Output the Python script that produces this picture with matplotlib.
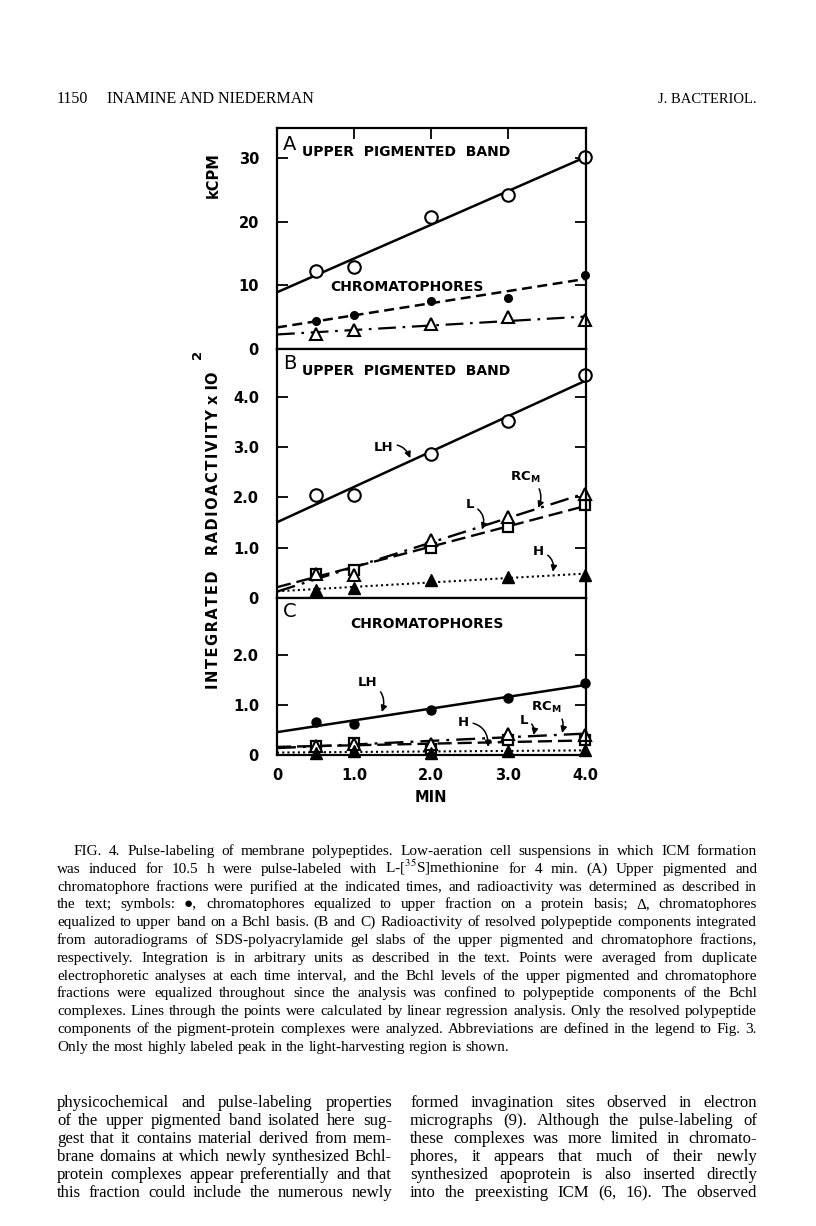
import numpy as np
import matplotlib
matplotlib.use("Agg")
import matplotlib.pyplot as plt

# ---------------- data ----------------
t_min = [0.5, 1.0, 2.0, 3.0, 4.0]
x_ticks = [0, 1.0, 2.0, 3.0, 4.0]
x_ticklabels = ["0", "1.0", "2.0", "3.0", "4.0"]

# Panel A (kCPM)
A_upper = [12.2, 12.8, 20.8, 24.2, 30.2]
A_chrom_protein = [4.4, 5.3, 7.6, 8.0, 11.6]
A_chrom_bchl = [2.3, 3.0, 3.9, 5.1, 4.5]
A_ticks = [0, 10, 20, 30]
A_ticklabels = ["0", "10", "20", "30"]

# Panel B (upper pigmented band)
B_LH = [2.05, 2.05, 2.86, 3.52, 4.43]
B_RCM = [0.48, 0.45, 1.15, 1.61, 2.07]
B_L = [0.48, 0.56, 1.00, 1.42, 1.85]
B_H = [0.16, 0.20, 0.36, 0.42, 0.45]
B_ticks = [0, 1.0, 2.0, 3.0, 4.0]
B_ticklabels = ["0", "1.0", "2.0", "3.0", "4.0"]

# Panel C (chromatophores)
C_LH = [0.66, 0.62, 0.90, 1.14, 1.44]
C_RCM = [0.18, 0.22, 0.22, 0.43, 0.40]
C_L = [0.18, 0.25, 0.12, 0.30, 0.30]
C_H = [0.05, 0.08, 0.05, 0.08, 0.10]
C_ticks = [0, 1.0, 2.0]
C_ticklabels = ["0", "1.0", "2.0"]

header_left_num = "1150"
header_left = "INAMINE AND NIEDERMAN"
header_right = "J. BACTERIOL."

caption_lines = [
    "FIG. 4. Pulse-labeling of membrane polypeptides. Low-aeration cell suspensions in which ICM formation",
    "was induced for 10.5 h were pulse-labeled with L-[$^{35}$S]methionine for 4 min. (A) Upper pigmented and",
    "chromatophore fractions were purified at the indicated times, and radioactivity was determined as described in",
    "the text; symbols: \u25CF, chromatophores equalized to upper fraction on a protein basis; \u0394, chromatophores",
    "equalized to upper band on a Bchl basis. (B and C) Radioactivity of resolved polypeptide components integrated",
    "from autoradiograms of SDS-polyacrylamide gel slabs of the upper pigmented and chromatophore fractions,",
    "respectively. Integration is in arbitrary units as described in the text. Points were averaged from duplicate",
    "electrophoretic analyses at each time interval, and the Bchl levels of the upper pigmented and chromatophore",
    "fractions were equalized throughout since the analysis was confined to polypeptide components of the Bchl",
    "complexes. Lines through the points were calculated by linear regression analysis. Only the resolved polypeptide",
    "components of the pigment-protein complexes were analyzed. Abbreviations are defined in the legend to Fig. 3.",
    "Only the most highly labeled peak in the light-harvesting region is shown.",
]
body_left = [
    "physicochemical and pulse-labeling properties",
    "of the upper pigmented band isolated here sug-",
    "gest that it contains material derived from mem-",
    "brane domains at which newly synthesized Bchl-",
    "protein complexes appear preferentially and that",
    "this fraction could include the numerous newly",
]
body_right = [
    "formed invagination sites observed in electron",
    "micrographs (9). Although the pulse-labeling of",
    "these complexes was more limited in chromato-",
    "phores, it appears that much of their newly",
    "synthesized apoprotein is also inserted directly",
    "into the preexisting ICM (6, 16). The observed",
]

# ---------------- figure ----------------
W, H = 816, 1226
fig = plt.figure(figsize=(W / 100, H / 100), dpi=100)
fig.patch.set_facecolor("white")

def fx(px):
    return px / W

def fy(py):
    return 1 - py / H

L, R = 277, 586
axA = fig.add_axes([fx(L), fy(349), fx(R) - fx(L), fy(128) - fy(349)])
axB = fig.add_axes([fx(L), fy(598), fx(R) - fx(L), fy(349) - fy(598)])
axC = fig.add_axes([fx(L), fy(755), fx(R) - fx(L), fy(598) - fy(755)])

tickfont = dict(family="DejaVu Sans", weight="bold", size=10.5)
t_arr = np.array(t_min)
xfit = np.array([0.0, 4.0])

def fit_line(ax, y, **kw):
    p = np.polyfit(t_arr, np.array(y), 1)
    ax.plot(xfit, np.polyval(p, xfit), color="black", **kw)

def style(ax, ylim, ticks, labels, top_ticks=False, xlabels=False):
    ax.set_xlim(0, 4.01)
    ax.set_ylim(*ylim)
    for s in ax.spines.values():
        s.set_linewidth(1.6)
    ax.set_yticks(ticks)
    ax.set_yticklabels(labels, fontdict=tickfont)
    ax.tick_params(axis="y", direction="in", length=8, width=1.3, left=True, right=True, pad=13)
    ax.set_xticks(x_ticks)
    if xlabels:
        ax.set_xticklabels(x_ticklabels, fontdict=tickfont)
        ax.tick_params(axis="x", direction="in", length=0, pad=9)
    else:
        ax.tick_params(axis="x", labelbottom=False, bottom=False, length=0)
    if top_ticks:
        ax.tick_params(axis="x", top=True, direction="in", length=8, width=1.3)
        ax.set_xticks([1.0, 2.0, 3.0])

# Panel A
fit_line(axA, A_upper, lw=1.8, ls="-")
axA.plot(t_arr, A_upper, "o", mfc="white", mec="black", mew=1.5, ms=9, clip_on=False)
fit_line(axA, A_chrom_protein, lw=1.8, dashes=(4, 2.2))
axA.plot(t_arr, A_chrom_protein, "o", color="black", ms=5.5, clip_on=False)
fit_line(axA, A_chrom_bchl, lw=1.6, dashes=(8, 3, 1.2, 3))
axA.plot(t_arr, A_chrom_bchl, "^", mfc="white", mec="black", mew=1.5, ms=8, clip_on=False)
style(axA, (0, 34.7), A_ticks, A_ticklabels, top_ticks=True)
axA.text(0.08, 33.6, "A", fontsize=14, va="top", ha="left", family="DejaVu Sans")
axA.text(0.32, 30.9, "UPPER  PIGMENTED  BAND", fontsize=10, weight="bold", va="center", ha="left")
axA.text(0.69, 9.8, "CHROMATOPHORES", fontsize=10, weight="bold", va="center", ha="left")

# Panel B
fit_line(axB, B_LH, lw=1.8, ls="-")
axB.plot(t_arr, B_LH, "o", mfc="white", mec="black", mew=1.5, ms=9, clip_on=False)
fit_line(axB, B_RCM, lw=1.7, dashes=(8, 3, 1.2, 3))
fit_line(axB, B_L, lw=1.7, dashes=(6, 2.5))
fit_line(axB, B_H, lw=1.5, dashes=(1, 1.5))
axB.plot(t_arr, B_L, "s", mfc="white", mec="black", mew=1.6, ms=7, clip_on=False)
axB.plot(t_arr, B_RCM, "^", mfc="white", mec="black", mew=1.5, ms=8, clip_on=False)
axB.plot(t_arr, B_H, "^", color="black", ms=8, clip_on=False)
style(axB, (0, 4.95), B_ticks, B_ticklabels)
axB.text(0.08, 4.85, "B", fontsize=14, va="top", ha="left", family="DejaVu Sans")
axB.text(0.32, 4.51, "UPPER  PIGMENTED  BAND", fontsize=10, weight="bold", va="center", ha="left")

arrow = dict(arrowstyle="-|>", color="black", lw=1.1, mutation_scale=9,
             connectionstyle="arc3,rad=-0.5", shrinkA=1, shrinkB=0)
lblfont = dict(fontsize=9.5, weight="bold")
axB.annotate("LH", xy=(1.73, 2.78), xytext=(1.38, 3.0), ha="center", va="center",
             arrowprops=arrow, **lblfont)
axB.annotate(r"$\mathbf{RC_M}$", xy=(3.39, 1.79), xytext=(3.22, 2.4), ha="center", va="center",
             arrowprops=arrow, **lblfont)
axB.annotate("L", xy=(2.66, 1.36), xytext=(2.5, 1.85), ha="center", va="center",
             arrowprops=arrow, **lblfont)
axB.annotate("H", xy=(3.58, 0.52), xytext=(3.39, 0.92), ha="center", va="center",
             arrowprops=arrow, **lblfont)

# Panel C
fit_line(axC, C_LH, lw=1.8, ls="-")
axC.plot(t_arr, C_LH, "o", color="black", ms=6.5, clip_on=False)
fit_line(axC, C_RCM, lw=1.7, dashes=(8, 3, 1.2, 3))
fit_line(axC, C_L, lw=1.7, dashes=(6, 2.5))
fit_line(axC, C_H, lw=1.5, dashes=(1, 1.5))
axC.plot(t_arr, C_L, "s", mfc="white", mec="black", mew=1.6, ms=7, clip_on=False)
axC.plot(t_arr, C_RCM, "^", mfc="white", mec="black", mew=1.5, ms=8, clip_on=False)
axC.plot(t_arr, C_H, "^", color="black", ms=8, clip_on=False)
style(axC, (0, 3.14), C_ticks, C_ticklabels, xlabels=True)
axC.text(0.08, 3.05, "C", fontsize=14, va="top", ha="left", family="DejaVu Sans")
axC.text(0.95, 2.62, "CHROMATOPHORES", fontsize=10, weight="bold", va="center", ha="left")
axC.annotate("LH", xy=(1.36, 0.86), xytext=(1.17, 1.44), ha="center", va="center",
             arrowprops=arrow, **lblfont)
axC.annotate("H", xy=(2.74, 0.16), xytext=(2.42, 0.66), ha="center", va="center",
             arrowprops=arrow, **lblfont)
axC.annotate("L", xy=(3.33, 0.40), xytext=(3.2, 0.70), ha="center", va="center",
             arrowprops=arrow, **lblfont)
axC.annotate(r"$\mathbf{RC_M}$", xy=(3.7, 0.44), xytext=(3.5, 0.95), ha="center", va="center",
             arrowprops=arrow, **lblfont)

# Axis labels
hs = "\u200a"
ylab = "   ".join(hs.join(w) for w in ["INTEGRATED", "RADIOACTIVITY"]) + " x IO"
fig.text(fx(213), fy(175), "kCPM", rotation=90, ha="center", va="center",
         fontsize=10.5, weight="bold")
fig.text(fx(213), fy(530), ylab, rotation=90, ha="center", va="center",
         fontsize=10.5, weight="bold")
fig.text(fx(198), fy(354), "2", rotation=90, ha="center", va="center",
         fontsize=9.5, weight="bold")
fig.text(fx(431), fy(797), "MIN", ha="center", va="center", fontsize=10.5, weight="bold")

# ---------------- page text ----------------
serif = ["Liberation Serif", "DejaVu Serif"]
renderer = fig.canvas.get_renderer()

def natural_width(line, size):
    tx = fig.text(0, 0, line, fontsize=size, family=serif, math_fontfamily="stix")
    w = tx.get_window_extent(renderer).width
    tx.remove()
    return w

def fit_size(lines, targets, base=10.0, margin=0.985):
    ratios = [tg / natural_width(ln, base) for ln, tg in zip(lines, targets)]
    return base * min(ratios) * margin

def justified(line, x0, x1, y, size, justify=True):
    words = line.split(" ")
    texts = [fig.text(0, fy(y), w, fontsize=size, family=serif, math_fontfamily="stix",
                      ha="left", va="baseline") for w in words]
    widths = [tx.get_window_extent(renderer).width for tx in texts]
    space = size * 100 / 72 * 0.25
    if justify and len(words) > 1:
        gap = (x1 - x0 - sum(widths)) / (len(words) - 1)
        gap = max(gap, space * 0.6)
    else:
        gap = space
    x = x0
    for tx, w in zip(texts, widths):
        tx.set_x(fx(x))
        x += w + gap

fig.text(fx(57), fy(103), header_left_num, fontsize=11.5, family=serif, va="baseline")
fig.text(fx(107), fy(103), header_left, fontsize=11.5, family=serif, va="baseline")
fig.text(fx(757), fy(103), header_right, fontsize=10.5, family=serif, va="baseline", ha="right")

cap_targets = [757 - 74] + [757 - 57] * (len(caption_lines) - 2)
cap_size = fit_size(caption_lines[:-1], cap_targets)
cap_y0 = 855
for i, line in enumerate(caption_lines):
    x0 = 74 if i == 0 else 57
    justified(line, x0, 757, cap_y0 + i * 17.8, cap_size, justify=(i < len(caption_lines) - 1))

body_size = min(fit_size(body_left, [392 - 57] * len(body_left)),
                fit_size(body_right, [757 - 410] * len(body_right)))
body_y0 = 1107
for i, line in enumerate(body_left):
    justified(line, 57, 392, body_y0 + i * 18.0, body_size)
for i, line in enumerate(body_right):
    justified(line, 410, 757, body_y0 + i * 18.0, body_size)

fig.savefig("out.png", dpi=100, facecolor="white")
